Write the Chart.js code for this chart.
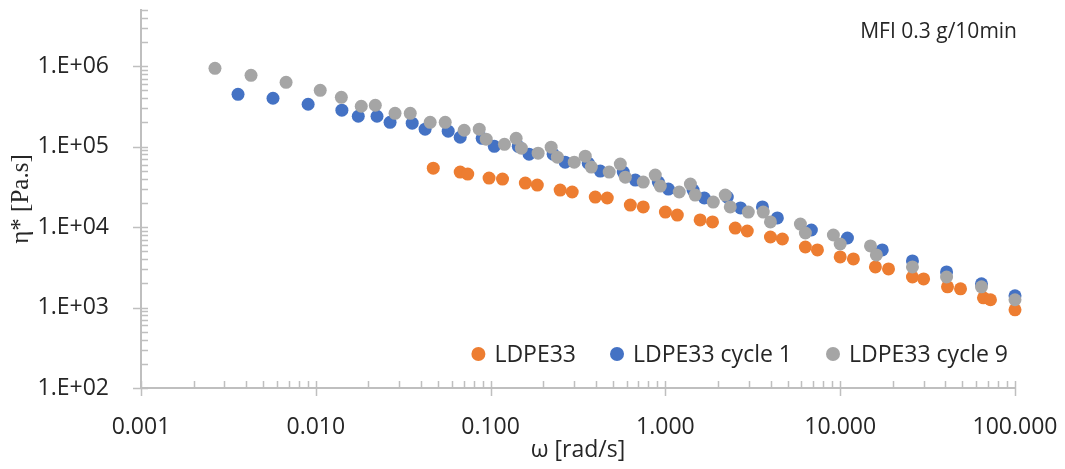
<!DOCTYPE html>
<html>
<head>
<meta charset="utf-8">
<title>LDPE33 complex viscosity</title>
<script src="https://cdn.jsdelivr.net/npm/chart.js@4.4.1/dist/chart.umd.min.js"></script>
<style>
body{margin:0;background:#fff;}
#wrap{width:1065px;height:469px;}
</style>
</head>
<body>
<div id="wrap"><canvas id="viscChart"></canvas></div>
<script>
// values
const ldpeOmega = [0.047,0.067,0.074,0.098,0.117,0.158,0.185,0.250,0.293,0.397,0.465,0.630,0.747,1.00,1.17,1.58,1.86,2.51,2.94,3.99,4.67,6.32,7.41,10.0,11.9,15.9,18.9,25.9,30.0,41.1,48.8,66.0,72.4,100];
const ldpeEta = [54100,48300,45600,40700,39500,35300,33300,28900,27300,23600,23000,18800,17800,15400,14100,12300,11600,9740,8940,7540,7120,5660,5200,4260,4020,3200,3020,2400,2270,1810,1710,1320,1250,937];

const cycle1Omega = [0.00359,0.00569,0.00904,0.0141,0.0175,0.0224,0.0266,0.0356,0.0422,0.0572,0.0670,0.0895,0.105,0.144,0.166,0.228,0.267,0.362,0.424,0.574,0.673,0.911,1.04,1.44,1.67,2.26,2.69,3.59,4.37,6.84,11.0,17.4,25.9,40.6,64.3,100];
const cycle1Eta = [448000,400000,337000,284000,239000,239000,201000,196000,165000,156000,131000,127000,101000,101000,80700,80700,64200,62400,49700,48300,38400,36300,29700,28900,23000,23600,17300,17800,13000,9200,7320,5200,3800,2770,1970,1400];

const cycle9Omega = [0.00265,0.00426,0.00676,0.0106,0.0140,0.0182,0.0219,0.0284,0.0347,0.0451,0.0550,0.0706,0.0861,0.0944,0.120,0.140,0.150,0.187,0.222,0.241,0.301,0.348,0.377,0.477,0.552,0.590,0.747,0.875,0.935,1.20,1.39,1.48,1.88,2.20,2.35,2.98,3.63,3.99,5.92,6.32,9.14,10.0,14.9,16.1,25.9,40.6,64.3,100];
const cycle9Eta = [942000,771000,631000,502000,411000,318000,327000,260000,260000,201000,201000,160000,165000,124000,107000,127000,95800,83100,98600,74100,64200,76200,55700,48300,60700,41800,36300,44300,32400,27300,34300,25000,20500,25000,17800,15400,15400,11600,10900,8450,7980,6170,5830,4510,3200,2400,1810,1250];

const seriesNames = ["LDPE33", "LDPE33 cycle 1", "LDPE33 cycle 9"];
const seriesColors = ["#ED7D31", "#4472C4", "#A5A5A5"];

const omegaTicks = [0.001, 0.01, 0.1, 1, 10, 100];
const omegaLabels = ["0.001", "0.010", "0.100", "1.000", "10.000", "100.000"];
const etaTicks = [1e2, 1e3, 1e4, 1e5, 1e6];
const etaLabels = ["1.E+02", "1.E+03", "1.E+04", "1.E+05", "1.E+06"];

const noteText = "MFI 0.3 g/10min";

function toPoints(xs, ys){
  return xs.map((x, i) => ({x: x, y: ys[i]}));
}

function labelFor(value, ticks, labels){
  for(let i = 0; i < ticks.length; i++){
    if(Math.abs(Math.log10(value) - Math.log10(ticks[i])) < 1e-6) return labels[i];
  }
  return "";
}

function mantissa(v){
  const e = Math.floor(Math.log10(v) + 1e-9);
  return v / Math.pow(10, e);
}

const axisColor = "#BFBFBF";
const textColor = "#262626";

Chart.defaults.font.family = "'Open Sans', sans-serif";
Chart.defaults.color = textColor;

// excel style ticks: majors cross the axis, minors inside
const tickMarks = {
  id: "tickMarks",
  afterDraw(chart){
    const ctx = chart.ctx;
    const area = chart.chartArea;
    const xs = chart.scales.x, ys = chart.scales.y;
    ctx.save();
    ctx.strokeStyle = axisColor;
    ctx.lineWidth = 1.5;
    ys.ticks.forEach(t => {
      const m = mantissa(t.value);
      if(Math.abs(m - Math.round(m)) > 1e-6) return;
      const py = Math.round(ys.getPixelForValue(t.value)) + 0.5;
      const major = Math.abs(m - 1) < 1e-6;
      ctx.beginPath();
      ctx.moveTo(area.left - (major ? 8 : 0), py);
      ctx.lineTo(area.left + 7, py);
      ctx.stroke();
    });
    xs.ticks.forEach(t => {
      const m = mantissa(t.value);
      if(Math.abs(m - Math.round(m)) > 1e-6) return;
      const px = Math.round(xs.getPixelForValue(t.value)) + 0.5;
      const major = Math.abs(m - 1) < 1e-6;
      ctx.beginPath();
      ctx.moveTo(px, area.bottom + (major ? 8 : 0));
      ctx.lineTo(px, area.bottom - 7);
      ctx.stroke();
    });
    ctx.restore();
  }
};

// legend inside the plot, bottom right, plus the MFI note
const innerLegend = {
  id: "innerLegend",
  afterDraw(chart){
    const ctx = chart.ctx;
    const area = chart.chartArea;
    ctx.save();
    ctx.font = "23px 'Open Sans'";
    ctx.textBaseline = "middle";
    ctx.textAlign = "left";
    const ly = area.bottom - 34;
    const widths = chart.data.datasets.map(d => ctx.measureText(d.label).width);
    let total = 0;
    widths.forEach((w, i) => { total += 7 + 16 + w + (i < widths.length - 1 ? 34 : 0); });
    let lx = area.right - 7 - total;
    chart.data.datasets.forEach((d, i) => {
      ctx.fillStyle = d.backgroundColor;
      ctx.beginPath();
      ctx.arc(lx + 7, ly, 7, 0, Math.PI * 2);
      ctx.fill();
      ctx.fillStyle = textColor;
      ctx.fillText(d.label, lx + 23, ly + 1);
      lx += 23 + widths[i] + 34;
    });
    ctx.font = "21px 'Open Sans'";
    ctx.textAlign = "right";
    ctx.fillText(noteText, area.right + 2, 32);
    ctx.restore();
  }
};

const ctx = document.getElementById("viscChart");

new Chart(ctx, {
  type: "scatter",
  data: {
    datasets: [
      {label: seriesNames[0], data: toPoints(ldpeOmega, ldpeEta), backgroundColor: seriesColors[0], order: 3},
      {label: seriesNames[1], data: toPoints(cycle1Omega, cycle1Eta), backgroundColor: seriesColors[1], order: 2},
      {label: seriesNames[2], data: toPoints(cycle9Omega, cycle9Eta), backgroundColor: seriesColors[2], order: 1}
    ]
  },
  options: {
    responsive: true,
    maintainAspectRatio: false,
    animation: false,
    layout: {padding: {left: 0, right: 50, top: 10, bottom: 0}},
    elements: {point: {radius: 6.5, borderWidth: 0, hoverRadius: 6.5}},
    datasets: {scatter: {clip: false}},
    plugins: {
      legend: {display: false},
      tooltip: {enabled: false}
    },
    scales: {
      x: {
        type: "logarithmic",
        min: 0.001,
        max: 100,
        grid: {display: false},
        border: {display: true, color: axisColor, width: 2},
        ticks: {
          autoSkip: false,
          maxRotation: 0,
          padding: 18,
          font: {size: 23},
          callback: v => labelFor(v, omegaTicks, omegaLabels)
        },
        title: {display: true, text: "ω [rad/s]", font: {size: 23}, padding: {top: 0, bottom: 5}},
        afterFit(s){ s.height = 81; s.paddingLeft = 0; s.paddingRight = 0; }
      },
      y: {
        type: "logarithmic",
        min: 100,
        max: 5e6,
        grid: {display: false},
        border: {display: true, color: axisColor, width: 2},
        ticks: {
          autoSkip: false,
          padding: 24,
          font: {size: 23},
          callback: v => labelFor(v, etaTicks, etaLabels)
        },
        title: {display: true, text: "η* [Pa.s]", font: {family: "'Liberation Serif', serif", size: 25}, padding: {top: 6, bottom: 0}},
        afterFit(s){ s.width = 141; s.paddingTop = 0; s.paddingBottom = 0; }
      }
    }
  },
  plugins: [tickMarks, innerLegend]
});
</script>
</body>
</html>
